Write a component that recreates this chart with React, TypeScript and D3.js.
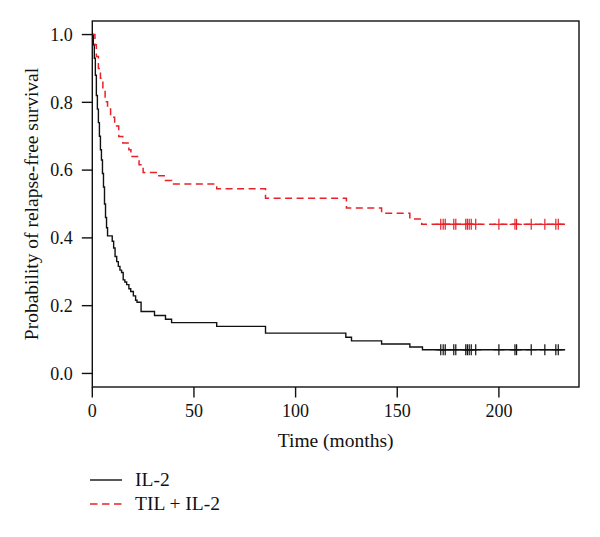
import React from "react";
import * as d3 from "d3";

// Kaplan–Meier step data
const il2Times = [0, 0.5, 1, 1.5, 2, 2.5, 3, 3.5, 4, 4.5, 5, 5.5, 6, 6.5, 7, 7.5, 9.8, 10.5, 11.2, 12, 12.8, 13.6, 14.4, 15.2, 16, 16.9, 18, 18.9, 20.2, 21.3, 22, 24, 30.6, 36, 39, 61.2, 85.2, 124.7, 127.5, 142.3, 156.2, 162.4, 232.6];
const il2Surv = [1.0, 0.97, 0.93, 0.88, 0.82, 0.78, 0.74, 0.70, 0.66, 0.63, 0.59, 0.55, 0.50, 0.46, 0.43, 0.406, 0.39, 0.37, 0.345, 0.33, 0.316, 0.305, 0.298, 0.276, 0.27, 0.262, 0.25, 0.242, 0.229, 0.216, 0.21, 0.183, 0.171, 0.16, 0.15, 0.139, 0.119, 0.107, 0.096, 0.087, 0.078, 0.07, 0.07];

const tilTimes = [0, 1.3, 2, 3, 4, 5.2, 6.3, 7.5, 9, 11, 13, 15, 18, 19, 23, 25, 31.5, 36, 39, 61.2, 85.2, 125, 142.3, 156.2, 162, 232.6];
const tilSurv = [1.0, 0.97, 0.935, 0.9, 0.871, 0.837, 0.802, 0.78, 0.756, 0.73, 0.699, 0.68, 0.66, 0.64, 0.616, 0.593, 0.583, 0.569, 0.559, 0.545, 0.517, 0.488, 0.473, 0.456, 0.44, 0.44];

const il2Censor = [171.4, 172.6, 173.6, 177.8, 178.8, 183.7, 184.5, 185.4, 186.4, 188.6, 200, 207.9, 208.7, 215.9, 222.6, 228, 229.2];
const tilCensor = [171.4, 172.6, 173.6, 177.8, 178.8, 183.7, 184.5, 185.4, 186.4, 188.6, 200, 207.9, 208.7, 215.9, 222.6, 228, 229.2];

const xTicks = [0, 50, 100, 150, 200];
const yTicks = [0.0, 0.2, 0.4, 0.6, 0.8, 1.0];
const seriesNames = ["IL-2", "TIL + IL-2"];

const FONT = "'Liberation Serif', 'Times New Roman', serif";
const RED = "#e8212a";

export default function App() {
  const W = 600, H = 537;
  const left = 92.3, right = 579, top = 21, bottom = 387;
  const x = d3.scaleLinear().domain([0, 239.4]).range([left, right]);
  const y = d3.scaleLinear().domain([-0.04, 1.04]).range([bottom, top]);

  const line = d3
    .line<[number, number]>()
    .x((d) => x(d[0]))
    .y((d) => y(d[1]))
    .curve(d3.curveStepAfter);

  const il2Pts: [number, number][] = il2Times.map((t, i) => [t, il2Surv[i]]);
  const tilPts: [number, number][] = tilTimes.map((t, i) => [t, tilSurv[i]]);

  const survAt = (times: number[], surv: number[], t: number) => {
    let v = surv[0];
    for (let i = 0; i < times.length; i++) if (times[i] <= t) v = surv[i];
    return v;
  };

  const cross = (cx: number, cy: number, color: string, key: string) => (
    <g key={key} stroke={color} strokeWidth={1.2}>
      <line x1={cx} x2={cx} y1={cy - 5.5} y2={cy + 5.5} />
      <line x1={cx - 5.5} x2={cx + 5.5} y1={cy} y2={cy} />
    </g>
  );

  return (
    <svg width={W} height={H} style={{ display: "block", position: "absolute", left: 0, top: 0 }}>
      <rect x={0} y={0} width={W} height={H} fill="#fff" />
      {/* curves */}
      <path d={line(il2Pts) || ""} fill="none" stroke="#111" strokeWidth={1.4} />
      <path d={line(tilPts) || ""} fill="none" stroke={RED} strokeWidth={1.5} strokeDasharray="7,4.5" />
      {il2Censor.map((t, i) => cross(x(t), y(survAt(il2Times, il2Surv, t)), "#111", "c1" + i))}
      {tilCensor.map((t, i) => cross(x(t), y(survAt(tilTimes, tilSurv, t)), RED, "c2" + i))}
      {/* box */}
      <rect x={left} y={top} width={right - left} height={bottom - top} fill="none" stroke="#111" strokeWidth={1.4} />
      {/* y axis */}
      {yTicks.map((v) => (
        <g key={"y" + v}>
          <line x1={left - 10.5} x2={left} y1={y(v)} y2={y(v)} stroke="#111" strokeWidth={1.4} />
          <text x={left - 19.5} y={y(v)} dy="0.35em" textAnchor="end" fontFamily={FONT} fontSize={18} fill="#111">
            {v.toFixed(1)}
          </text>
        </g>
      ))}
      {/* x axis */}
      {xTicks.map((t) => (
        <g key={"x" + t}>
          <line x1={x(t)} x2={x(t)} y1={bottom} y2={bottom + 10.5} stroke="#111" strokeWidth={1.4} />
          <text x={x(t)} y={417} textAnchor="middle" fontFamily={FONT} fontSize={18} fill="#111">
            {t}
          </text>
        </g>
      ))}
      <text x={(left + right) / 2} y={447} textAnchor="middle" fontFamily={FONT} fontSize={19.5} fill="#111">
        Time (months)
      </text>
      <text
        transform={`translate(38,${(top + bottom) / 2}) rotate(-90)`}
        textAnchor="middle"
        fontFamily={FONT}
        fontSize={19.5}
        fill="#111"
      >
        Probability of relapse-free survival
      </text>
      {/* legend */}
      <line x1={90} x2={122} y1={480} y2={480} stroke="#111" strokeWidth={1.4} />
      <text x={135} y={486} fontFamily={FONT} fontSize={19.5} fill="#111">{seriesNames[0]}</text>
      <line x1={90} x2={122} y1={504} y2={504} stroke={RED} strokeWidth={1.5} strokeDasharray="7.5,4.5" />
      <text x={135} y={510} fontFamily={FONT} fontSize={19.5} fill="#111">{seriesNames[1]}</text>
    </svg>
  );
}
